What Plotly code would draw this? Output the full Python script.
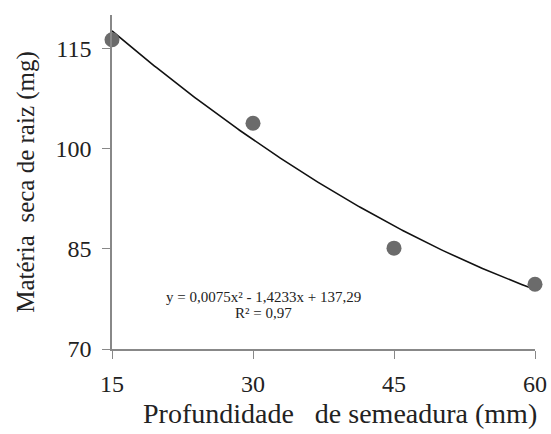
import numpy as np
import plotly.graph_objects as go

depth = [15, 30, 45, 60]
dry_mass = [116.3, 103.8, 85.1, 79.7]
coef = [0.0075, -1.4233, 137.29]  # y = a x^2 + b x + c (from chart equation)
x_ticks = [15, 30, 45, 60]
y_ticks = [70, 85, 100, 115]
eq_lines = ["y = 0,0075x² - 1,4233x + 137,29", "R² = 0,97"]

xc = np.linspace(15, 60, 200)
yc = coef[0] * xc**2 + coef[1] * xc + coef[2]

fig = go.Figure()
fig.add_trace(go.Scatter(x=xc, y=yc, mode="lines",
                         line=dict(color="#111111", width=1.6), hoverinfo="skip"))
fig.add_trace(go.Scatter(x=depth, y=dry_mass, mode="markers",
                         marker=dict(color="#6b6b6b", size=15)))

font = "Liberation Serif"
L, R, T, B = 112, 16, 15, 85
pw, ph = 551 - L - R, 434 - T - B
fig.update_layout(
    width=551, height=434,
    margin=dict(l=L, r=R, t=T, b=B),
    paper_bgcolor="white", plot_bgcolor="white",
    showlegend=False,
    font=dict(family=font, color="#222222"),
    xaxis=dict(range=[15, 60], tickvals=x_ticks, ticks="outside", ticklen=8,
               tickcolor="#888888", showline=True, linecolor="#888888", linewidth=1.5,
               showgrid=False, zeroline=False, automargin=False,
               tickfont=dict(size=24, family=font), ticklabelstandoff=4),
    yaxis=dict(range=[70, 120], tickvals=y_ticks, ticks="outside", ticklen=8,
               tickcolor="#888888", showline=True, linecolor="#888888", linewidth=1.5,
               showgrid=False, zeroline=False, automargin=False,
               tickfont=dict(size=24, family=font), ticklabelstandoff=6,
               title=dict(text="Matéria  seca de raiz (mg)", font=dict(size=25, family=font), standoff=14)),
)
fig.update_traces(cliponaxis=False)

# x-axis title (offset to the right as in the original)
fig.add_annotation(x=(340 - L) / pw, y=(434 - B - 413) / ph, xref="paper", yref="paper",
                   xanchor="center", yanchor="middle",
                   showarrow=False, text="Profundidade   de semeadura (mm)",
                   font=dict(size=28, family=font, color="#222222"))
# regression equation
for txt, ypix in zip(eq_lines, [297, 313]):
    fig.add_annotation(x=(263 - L) / pw, y=(434 - B - ypix) / ph, xref="paper", yref="paper",
                       xanchor="center", yanchor="middle",
                       showarrow=False, text=txt,
                       font=dict(size=15, family=font, color="#222222"))
fig.write_html("out.html")
